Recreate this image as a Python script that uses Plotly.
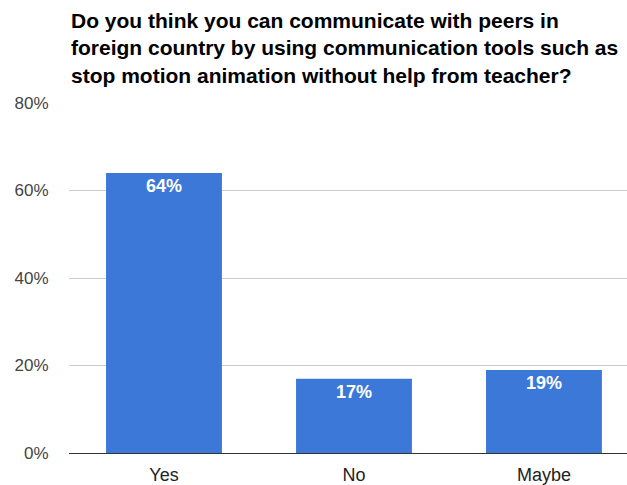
import plotly.graph_objects as go

# Survey answers and their shares (percent)
categories = ["Yes", "No", "Maybe"]
shares = [64, 17, 19]
tick_values = [0, 20, 40, 60, 80]
tick_labels = ["0%", "20%", "40%", "60%", "80%"]
title_lines = [
    "Do you think you can communicate with peers in",
    "foreign country by using communication tools such as",
    "stop motion animation without help from teacher?",
]

W, H = 627, 485
M_L, M_R, M_T, M_B = 69, 0, 103, 32
plot_h = H - M_T - M_B

BLUE = "#3c78d8"
FONT = "Liberation Sans, Arial, sans-serif"

fig = go.Figure(
    go.Bar(
        x=list(range(len(categories))),
        y=shares,
        width=0.61,
        marker=dict(color=BLUE, line=dict(width=0)),
        text=[f"{v}%" for v in shares],
        textposition="inside",
        insidetextanchor="end",
        textangle=0,
        textfont=dict(family=FONT, size=18, color="white", weight="bold"),
        hoverinfo="skip",
    )
)


def py(pix):
    """Convert a pixel row (from top of page) to paper y."""
    return (H - M_B - pix) / plot_h


for line, ypix in zip(title_lines, [20, 48, 76]):
    fig.add_annotation(
        text=f"<b>{line}</b>",
        xref="paper", yref="paper",
        x=0, xshift=0, y=py(ypix),
        xanchor="left", yanchor="middle",
        showarrow=False,
        font=dict(family=FONT, size=21, color="#000000"),
    )

fig.update_layout(
    width=W, height=H,
    margin=dict(l=M_L, r=M_R, t=M_T, b=M_B, pad=0),
    paper_bgcolor="white", plot_bgcolor="white",
    showlegend=False,
    font=dict(family=FONT, size=17, color="#444444"),
    xaxis=dict(
        range=[-0.5, 2.437],
        tickmode="array",
        tickvals=list(range(len(categories))),
        ticktext=categories,
        showgrid=False,
        showline=True, linecolor="#333333", linewidth=1,
        ticks="outside", ticklen=5, tickcolor="rgba(0,0,0,0)",
        tickfont=dict(size=18, color="#222222"),
        fixedrange=True,
    ),
    yaxis=dict(
        range=[0, 80],
        tickmode="array",
        tickvals=tick_values,
        ticktext=tick_labels,
        showgrid=True, gridcolor="#cccccc", gridwidth=1,
        zeroline=False,
        showline=False,
        ticks="outside", ticklen=16, tickcolor="rgba(0,0,0,0)",
        tickfont=dict(size=17, color="#444444"),
        fixedrange=True,
    ),
)

fig.write_html("out.html")
